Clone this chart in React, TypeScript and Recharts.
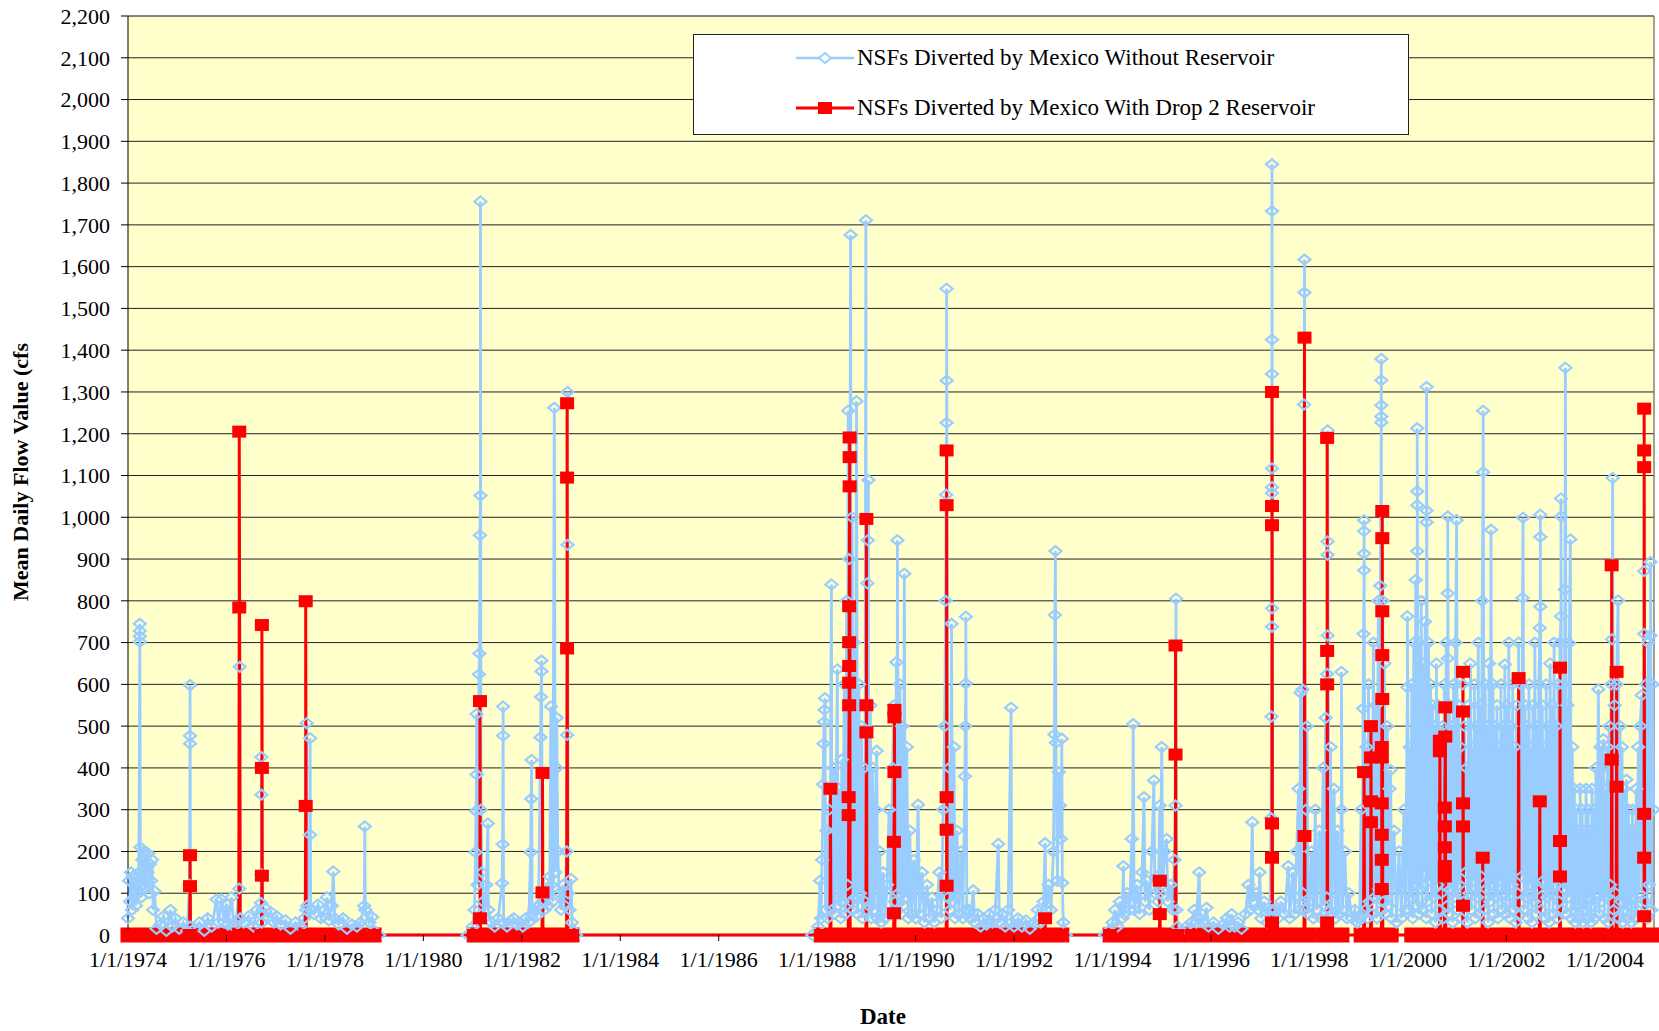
import React from 'react';
import { LineChart, Line, XAxis, YAxis, CartesianGrid, ReferenceLine } from 'recharts';

type Row = [number, number];

// decimal year, mean daily flow (cfs)
const blue1974: Row[] = [
  [1974.0, 40], [1974.02, 130], [1974.04, 80], [1974.06, 150], [1974.08, 60], [1974.1, 140], [1974.12, 90], [1974.14, 120],
  [1974.16, 70], [1974.18, 130], [1974.2, 100], [1974.22, 150], [1974.24, 702], [1974.24, 715], [1974.24, 728], [1974.24, 745],
  [1974.25, 210], [1974.27, 90], [1974.29, 180], [1974.31, 120], [1974.33, 200], [1974.35, 110], [1974.37, 190], [1974.39, 150],
  [1974.41, 195], [1974.43, 100], [1974.45, 170], [1974.47, 130], [1974.49, 180], [1974.51, 60], [1974.54, 105], [1974.58, 15],
  [1974.66, 25], [1974.72, 45], [1974.78, 10], [1974.86, 60], [1974.9, 20], [1974.96, 40], [1975.04, 15], [1975.12, 30],
  [1975.2, 10], [1975.25, 120], [1975.26, 458], [1975.26, 477], [1975.26, 598], [1975.27, 20], [1975.35, 15], [1975.45, 30],
  [1975.55, 10], [1975.62, 40], [1975.7, 20], [1975.8, 85], [1975.84, 30], [1975.9, 85], [1975.95, 30], [1976.0, 75],
  [1976.03, 25], [1976.1, 90], [1976.15, 20], [1976.2, 35], [1976.26, 111], [1976.27, 642], [1976.28, 40], [1976.35, 30],
  [1976.45, 45], [1976.55, 20], [1976.62, 60], [1976.68, 50], [1976.7, 77], [1976.71, 145], [1976.71, 336], [1976.71, 426],
  [1976.72, 30], [1976.78, 65], [1976.84, 40], [1976.9, 55], [1976.96, 30], [1977.02, 45], [1977.1, 25], [1977.2, 35],
  [1977.3, 15], [1977.4, 30], [1977.5, 20], [1977.58, 40], [1977.62, 60], [1977.63, 507], [1977.64, 70], [1977.7, 240],
  [1977.7, 471], [1977.71, 60], [1977.78, 50], [1977.86, 73], [1977.92, 40], [1978.0, 60], [1978.04, 90], [1978.08, 35],
  [1978.14, 70], [1978.17, 152], [1978.2, 40], [1978.28, 25], [1978.37, 40], [1978.45, 15], [1978.55, 25], [1978.65, 20],
  [1978.72, 30], [1978.8, 70], [1978.81, 260], [1978.82, 60], [1978.9, 30], [1978.96, 43], [1979.0, 10], [1979.1, 0],
  [1980.9, 0],
];

const blue1981: Row[] = [
  [1981.0, 20], [1981.04, 60], [1981.06, 198], [1981.07, 297], [1981.08, 384], [1981.08, 529], [1981.1, 120], [1981.13, 624],
  [1981.14, 674], [1981.15, 957], [1981.16, 1052], [1981.16, 1756], [1981.17, 300], [1981.19, 150], [1981.21, 80], [1981.24, 40],
  [1981.28, 120], [1981.31, 267], [1981.32, 60], [1981.38, 30], [1981.45, 20], [1981.52, 40], [1981.6, 124], [1981.61, 217],
  [1981.62, 477], [1981.62, 547], [1981.63, 30], [1981.7, 20], [1981.78, 35], [1981.84, 40], [1981.9, 25], [1981.96, 30],
  [1982.02, 20], [1982.08, 40], [1982.14, 30], [1982.18, 198], [1982.19, 326], [1982.2, 419], [1982.21, 50], [1982.25, 60],
  [1982.3, 45], [1982.34, 70], [1982.38, 473], [1982.39, 570], [1982.4, 631], [1982.4, 657], [1982.42, 80], [1982.46, 60],
  [1982.5, 100], [1982.54, 70], [1982.57, 140], [1982.59, 547], [1982.6, 120], [1982.63, 80], [1982.66, 1262], [1982.68, 150],
  [1982.71, 400], [1982.71, 520], [1982.73, 200], [1982.76, 100], [1982.8, 60], [1982.84, 120], [1982.88, 70], [1982.91, 200],
  [1982.92, 479], [1982.93, 934], [1982.93, 1300], [1982.94, 100], [1982.97, 60], [1983.0, 134], [1983.02, 30], [1983.06, 10],
  [1983.1, 0], [1987.9, 0],
];

const blue1988: Row[] = [
  [1988.02, 20], [1988.06, 130], [1988.08, 40], [1988.1, 180], [1988.12, 361], [1988.13, 458], [1988.14, 510], [1988.15, 539],
  [1988.16, 567], [1988.17, 60], [1988.19, 250], [1988.21, 40], [1988.24, 300], [1988.27, 350], [1988.29, 839], [1988.3, 60],
  [1988.33, 400], [1988.35, 50], [1988.38, 250], [1988.41, 636], [1988.42, 70], [1988.45, 350], [1988.48, 40], [1988.5, 420],
  [1988.52, 80], [1988.55, 600], [1988.57, 50], [1988.6, 800], [1988.62, 120], [1988.63, 1255], [1988.65, 900], [1988.66, 700],
  [1988.68, 1676], [1988.69, 80], [1988.71, 1000], [1988.73, 60], [1988.75, 700], [1988.77, 90], [1988.8, 1278], [1988.82, 50],
  [1988.85, 600], [1988.87, 100], [1988.9, 500], [1988.92, 40], [1988.95, 400], [1988.97, 80], [1988.99, 1711], [1989.0, 60],
  [1989.02, 842], [1989.03, 945], [1989.04, 1089], [1989.05, 70], [1989.08, 550], [1989.1, 40], [1989.13, 400], [1989.16, 60],
  [1989.19, 300], [1989.21, 441], [1989.23, 40], [1989.27, 200], [1989.3, 30], [1989.34, 150], [1989.38, 40], [1989.42, 120],
  [1989.46, 300], [1989.5, 50], [1989.53, 400], [1989.56, 550], [1989.58, 80], [1989.61, 653], [1989.62, 60], [1989.63, 945],
  [1989.65, 100], [1989.68, 600], [1989.7, 50], [1989.73, 500], [1989.75, 70], [1989.77, 865], [1989.79, 90], [1989.82, 450],
  [1989.85, 40], [1989.88, 250], [1989.92, 50], [1989.96, 180], [1990.0, 40], [1990.05, 312], [1990.08, 50], [1990.13, 150],
  [1990.18, 30], [1990.23, 120], [1990.28, 40], [1990.33, 90], [1990.38, 30], [1990.43, 60], [1990.48, 150], [1990.52, 40],
  [1990.56, 300], [1990.59, 500], [1990.61, 800], [1990.62, 1054], [1990.63, 1226], [1990.63, 1327], [1990.63, 1547], [1990.65, 90],
  [1990.68, 400], [1990.7, 60], [1990.73, 745], [1990.75, 80], [1990.78, 450], [1990.8, 40], [1990.84, 250], [1990.88, 50],
  [1990.92, 200], [1990.96, 40], [1991.0, 380], [1991.01, 500], [1991.02, 602], [1991.02, 762], [1991.04, 60], [1991.08, 60],
  [1991.12, 40], [1991.17, 107], [1991.2, 30], [1991.26, 50], [1991.32, 20], [1991.38, 40], [1991.44, 25], [1991.5, 50],
  [1991.56, 30], [1991.62, 60], [1991.68, 218], [1991.7, 30], [1991.76, 50], [1991.82, 20], [1991.88, 60], [1991.94, 544],
  [1991.95, 30], [1992.0, 20], [1992.08, 40], [1992.16, 20], [1992.24, 35], [1992.32, 15], [1992.4, 30], [1992.48, 60],
  [1992.54, 30], [1992.6, 80], [1992.63, 220], [1992.65, 60], [1992.7, 120], [1992.75, 60], [1992.8, 200], [1992.82, 480],
  [1992.83, 766], [1992.84, 919], [1992.85, 460], [1992.88, 130], [1992.91, 390], [1992.93, 310], [1992.95, 230], [1992.97, 470],
  [1992.98, 125], [1993.0, 30], [1993.05, 0], [1993.85, 0],
];

const blue1994: Row[] = [
  [1993.92, 10], [1994.0, 30], [1994.05, 60], [1994.1, 20], [1994.15, 80], [1994.2, 40], [1994.22, 165], [1994.24, 50],
  [1994.3, 100], [1994.35, 60], [1994.39, 230], [1994.4, 80], [1994.42, 505], [1994.44, 60], [1994.5, 120], [1994.55, 50],
  [1994.6, 150], [1994.64, 330], [1994.66, 80], [1994.7, 130], [1994.75, 60], [1994.8, 200], [1994.84, 370], [1994.86, 100],
  [1994.9, 140], [1994.93, 80], [1994.96, 310], [1994.97, 100], [1995.0, 450], [1995.02, 120], [1995.06, 200], [1995.1, 230],
  [1995.12, 80], [1995.18, 120], [1995.22, 60], [1995.26, 180], [1995.28, 310], [1995.29, 805], [1995.3, 60], [1995.32, 20],
  [1995.4, 10], [1995.5, 20], [1995.6, 30], [1995.66, 60], [1995.7, 30], [1995.76, 150], [1995.78, 40], [1995.84, 30],
  [1995.91, 65], [1995.95, 20], [1996.05, 30], [1996.15, 15], [1996.25, 25], [1996.32, 40], [1996.38, 20], [1996.42, 50],
  [1996.48, 20], [1996.55, 30], [1996.62, 15], [1996.7, 50], [1996.76, 120], [1996.8, 60], [1996.84, 270], [1996.86, 80],
  [1996.92, 100], [1996.96, 60], [1996.99, 150], [1997.02, 40], [1997.08, 80], [1997.14, 30], [1997.2, 60], [1997.22, 280],
  [1997.23, 523], [1997.24, 738], [1997.24, 782], [1997.24, 1058], [1997.24, 1072], [1997.24, 1117], [1997.24, 1343], [1997.24, 1425],
  [1997.24, 1733], [1997.24, 1845], [1997.25, 60], [1997.3, 60], [1997.36, 40], [1997.42, 80], [1997.5, 50], [1997.57, 165],
  [1997.6, 40], [1997.66, 150], [1997.7, 50], [1997.74, 200], [1997.78, 350], [1997.8, 60], [1997.82, 580], [1997.84, 80],
  [1997.86, 588], [1997.87, 100], [1997.89, 1270], [1997.9, 1538], [1997.9, 1617], [1997.91, 60], [1997.93, 300], [1997.95, 500],
  [1997.97, 50],
];

const blue1998: Row[] = [
  [1998.0, 80], [1998.04, 200], [1998.08, 40], [1998.12, 300], [1998.15, 60], [1998.2, 250], [1998.24, 40], [1998.28, 400],
  [1998.3, 70], [1998.33, 520], [1998.35, 90], [1998.36, 625], [1998.37, 717], [1998.37, 910], [1998.37, 942], [1998.37, 1208],
  [1998.4, 60], [1998.43, 450], [1998.45, 50], [1998.5, 350], [1998.53, 40], [1998.57, 250], [1998.6, 50], [1998.65, 300],
  [1998.65, 630], [1998.67, 60], [1998.72, 200], [1998.76, 40], [1998.8, 100], [1998.86, 40], [1998.92, 60], [1998.97, 30],
  [1999.02, 40], [1999.05, 300], [1999.07, 50], [1999.09, 542], [1999.1, 721], [1999.11, 873], [1999.11, 913], [1999.11, 967],
  [1999.11, 993], [1999.13, 60], [1999.16, 450], [1999.18, 40], [1999.2, 600], [1999.22, 80], [1999.25, 500], [1999.27, 50],
  [1999.3, 700], [1999.32, 90], [1999.35, 550], [1999.37, 40], [1999.4, 800], [1999.42, 110], [1999.44, 836], [1999.46, 1227],
  [1999.46, 1241], [1999.46, 1268], [1999.46, 1328], [1999.46, 1379], [1999.47, 60], [1999.49, 800], [1999.5, 80], [1999.52, 650],
  [1999.55, 50], [1999.58, 500], [1999.6, 70], [1999.63, 350], [1999.65, 395], [1999.67, 40], [1999.72, 250], [1999.77, 30],
  [1999.82, 200], [1999.87, 40], [1999.92, 300], [1999.95, 60], [1999.99, 593], [1999.99, 763],
];

const blue2000: Row[] = [
  [2000.02, 60], [2000.04, 450], [2000.06, 90], [2000.08, 600], [2000.1, 40], [2000.12, 700], [2000.14, 120], [2000.16, 850],
  [2000.18, 70], [2000.19, 919], [2000.19, 1029], [2000.19, 1062], [2000.19, 1213], [2000.21, 50], [2000.23, 700], [2000.25, 110],
  [2000.27, 800], [2000.29, 60], [2000.31, 650], [2000.33, 150], [2000.35, 750], [2000.37, 40], [2000.38, 988], [2000.38, 1016],
  [2000.38, 1312], [2000.4, 80], [2000.42, 700], [2000.44, 130], [2000.46, 600], [2000.48, 50], [2000.5, 550], [2000.52, 90],
  [2000.54, 500], [2000.56, 30], [2000.58, 650], [2000.6, 120], [2000.62, 550], [2000.64, 60], [2000.66, 450], [2000.68, 100],
  [2000.7, 500], [2000.72, 40], [2000.74, 600], [2000.76, 140], [2000.78, 700], [2000.8, 70], [2000.81, 662], [2000.81, 818],
  [2000.81, 1002], [2000.83, 50], [2000.85, 550], [2000.87, 110], [2000.89, 500], [2000.91, 30], [2000.93, 600], [2000.95, 90],
  [2000.97, 700], [2000.99, 993], [2001.01, 60], [2001.03, 550], [2001.05, 120], [2001.07, 450], [2001.09, 40], [2001.11, 600],
  [2001.13, 80], [2001.15, 500], [2001.17, 150], [2001.19, 400], [2001.21, 30], [2001.23, 550], [2001.25, 100], [2001.27, 650],
  [2001.29, 60], [2001.31, 450], [2001.33, 130], [2001.35, 600], [2001.37, 40], [2001.39, 500], [2001.41, 90], [2001.43, 700],
  [2001.45, 50], [2001.47, 550], [2001.49, 140], [2001.51, 800], [2001.53, 1108], [2001.53, 1255], [2001.55, 60], [2001.57, 600],
  [2001.59, 110], [2001.61, 500], [2001.63, 30], [2001.65, 650], [2001.67, 80], [2001.69, 970], [2001.71, 120], [2001.73, 600],
  [2001.75, 50], [2001.77, 500], [2001.79, 90], [2001.81, 550], [2001.83, 40], [2001.85, 450], [2001.87, 130], [2001.89, 600],
  [2001.91, 60], [2001.93, 500], [2001.95, 100], [2001.97, 648], [2001.99, 50],
];

const blue2002: Row[] = [
  [2002.01, 550], [2002.03, 80], [2002.05, 700], [2002.07, 40], [2002.09, 500], [2002.11, 120], [2002.13, 600], [2002.15, 60],
  [2002.17, 450], [2002.19, 30], [2002.21, 550], [2002.23, 100], [2002.25, 700], [2002.27, 50], [2002.29, 600], [2002.31, 140],
  [2002.33, 807], [2002.34, 999], [2002.36, 60], [2002.38, 550], [2002.4, 90], [2002.42, 500], [2002.44, 40], [2002.46, 600],
  [2002.48, 120], [2002.5, 450], [2002.52, 30], [2002.54, 550], [2002.56, 80], [2002.58, 700], [2002.6, 50], [2002.62, 500],
  [2002.64, 110], [2002.66, 600], [2002.68, 735], [2002.69, 786], [2002.69, 953], [2002.69, 1006], [2002.71, 60], [2002.73, 550],
  [2002.75, 130], [2002.77, 450], [2002.79, 40], [2002.81, 600], [2002.83, 90], [2002.85, 500], [2002.87, 30], [2002.89, 650],
  [2002.91, 100], [2002.93, 550], [2002.95, 50], [2002.97, 700], [2002.99, 120], [2003.01, 500], [2003.03, 40], [2003.05, 600],
  [2003.07, 80], [2003.09, 700], [2003.11, 763], [2003.11, 1002], [2003.11, 1045], [2003.13, 60], [2003.15, 600], [2003.17, 110],
  [2003.19, 827], [2003.2, 1358], [2003.22, 50], [2003.24, 550], [2003.26, 90], [2003.28, 699], [2003.3, 947], [2003.32, 40],
  [2003.34, 450], [2003.36, 60], [2003.38, 350], [2003.4, 30], [2003.42, 300], [2003.44, 70], [2003.46, 250], [2003.48, 40],
  [2003.5, 350], [2003.52, 80], [2003.54, 300], [2003.56, 30], [2003.58, 250], [2003.6, 60], [2003.62, 350], [2003.64, 40],
  [2003.66, 300], [2003.68, 90], [2003.7, 250], [2003.72, 30], [2003.74, 350], [2003.76, 70], [2003.78, 300], [2003.8, 40],
  [2003.82, 400], [2003.84, 100], [2003.87, 588], [2003.89, 50], [2003.91, 450], [2003.93, 80], [2003.95, 400], [2003.97, 469],
  [2003.99, 40], [2004.01, 350], [2004.03, 90], [2004.05, 450], [2004.07, 30], [2004.09, 500], [2004.11, 120], [2004.13, 600],
  [2004.15, 708], [2004.16, 1094], [2004.18, 60], [2004.2, 550], [2004.22, 100], [2004.24, 600], [2004.27, 801], [2004.29, 40],
  [2004.31, 500], [2004.33, 80], [2004.35, 450], [2004.37, 30], [2004.39, 350], [2004.41, 60], [2004.44, 372], [2004.46, 40],
  [2004.48, 300], [2004.5, 70], [2004.52, 250], [2004.54, 30], [2004.56, 300], [2004.58, 90], [2004.6, 250], [2004.62, 40],
  [2004.64, 350], [2004.66, 60], [2004.68, 450], [2004.7, 100], [2004.72, 500], [2004.75, 574], [2004.77, 50], [2004.8, 721],
  [2004.8, 871], [2004.82, 80], [2004.84, 600], [2004.86, 40], [2004.88, 700], [2004.9, 120], [2004.93, 717], [2004.93, 893],
  [2004.95, 60], [2004.97, 600], [2004.99, 300],
];

const red1974: Row[] = [
  [1974.0, 0], [1975.25, 0], [1975.26, 117], [1975.26, 191], [1975.27, 0], [1976.25, 0], [1976.26, 784], [1976.26, 1205],
  [1976.28, 0], [1976.71, 0], [1976.72, 142], [1976.72, 400], [1976.72, 742], [1976.73, 0], [1977.6, 0], [1977.61, 309],
  [1977.61, 799], [1977.62, 0], [1979.0, 0],
];

const red1981: Row[] = [
  [1981.03, 0], [1981.14, 0], [1981.15, 40], [1981.15, 560], [1981.16, 0], [1982.41, 0], [1982.42, 102], [1982.42, 388],
  [1982.43, 0], [1982.91, 0], [1982.92, 686], [1982.92, 1095], [1982.92, 1273], [1982.93, 0], [1983.02, 0],
];

const red1988: Row[] = [
  [1988.08, 0], [1988.26, 0], [1988.27, 350], [1988.28, 0], [1988.63, 0], [1988.64, 287], [1988.64, 330], [1988.65, 550],
  [1988.65, 604], [1988.65, 644], [1988.65, 701], [1988.65, 787], [1988.66, 1074], [1988.66, 1144], [1988.66, 1191], [1988.67, 0],
  [1988.99, 0], [1989.0, 485], [1989.0, 550], [1989.0, 996], [1989.01, 0], [1989.55, 0], [1989.56, 52], [1989.56, 223],
  [1989.57, 390], [1989.57, 521], [1989.57, 539], [1989.58, 0], [1990.62, 0], [1990.63, 118], [1990.63, 252], [1990.63, 330],
  [1990.63, 1029], [1990.63, 1160], [1990.64, 0], [1992.62, 0], [1992.63, 40], [1992.64, 0], [1992.97, 0],
];

const red1994: Row[] = [
  [1993.95, 0], [1994.95, 0], [1994.96, 50], [1994.96, 130], [1994.97, 0], [1995.27, 0], [1995.28, 432], [1995.28, 693],
  [1995.29, 0], [1995.32, 0], [1995.61, 0], [1997.23, 0], [1997.24, 30], [1997.24, 185], [1997.24, 267], [1997.24, 981],
  [1997.24, 1027], [1997.24, 1300], [1997.25, 0], [1997.89, 0], [1997.9, 237], [1997.9, 1430], [1997.91, 0], [1997.99, 0],
];

const red1998: Row[] = [
  [1998.29, 0], [1998.35, 0], [1998.36, 30], [1998.36, 600], [1998.36, 680], [1998.36, 1190], [1998.37, 0], [1998.66, 0],
  [1999.05, 0], [1999.1, 0], [1999.11, 390], [1999.12, 0], [1999.24, 0], [1999.25, 270], [1999.25, 320], [1999.25, 425],
  [1999.25, 500], [1999.26, 0], [1999.46, 0], [1999.47, 110], [1999.47, 180], [1999.47, 240], [1999.47, 315], [1999.47, 425],
  [1999.47, 450], [1999.48, 565], [1999.48, 670], [1999.48, 775], [1999.48, 950], [1999.48, 1015], [1999.49, 0], [1999.66, 0],
];

const red2000: Row[] = [
  [2000.08, 0], [2000.64, 0], [2000.65, 440], [2000.65, 465], [2000.66, 0], [2000.74, 0], [2000.75, 140], [2000.75, 165],
  [2000.75, 210], [2000.75, 260], [2000.75, 305], [2000.76, 475], [2000.76, 545], [2000.77, 0], [2001.11, 0], [2001.12, 70],
  [2001.12, 260], [2001.12, 315], [2001.12, 535], [2001.12, 630], [2001.13, 0], [2001.51, 0], [2001.52, 185], [2001.53, 0],
  [2002.24, 0], [2002.25, 615], [2002.26, 0], [2002.67, 0], [2002.68, 320], [2002.69, 0], [2003.08, 0], [2003.09, 140],
  [2003.09, 225], [2003.09, 640], [2003.1, 0], [2004.13, 0], [2004.14, 420], [2004.14, 885], [2004.15, 0], [2004.23, 0],
  [2004.24, 355], [2004.24, 630], [2004.25, 0], [2004.79, 0], [2004.8, 45], [2004.8, 185], [2004.8, 290], [2004.8, 1120],
  [2004.8, 1160], [2004.8, 1260], [2004.81, 0], [2004.98, 0],
];

// stretches of days where the reservoir case diverts nothing (markers pile up on 0)
const zeroRuns: Row[] = [
  [1974.0, 1979.0], [1981.03, 1983.02], [1988.08, 1992.97], [1993.95, 1995.32],
  [1995.61, 1997.99], [1998.29, 1998.66], [1999.05, 1999.66], [2000.08, 2004.98],
];

const xTicks = [1974, 1976, 1978, 1980, 1982, 1984, 1986, 1988, 1990, 1992, 1994, 1996, 1998, 2000, 2002, 2004];
const yTicks = [0, 100, 200, 300, 400, 500, 600, 700, 800, 900, 1000, 1100, 1200, 1300, 1400, 1500, 1600, 1700, 1800, 1900, 2000, 2100, 2200];
const seriesNames = ['NSFs Diverted by Mexico Without Reservoir', 'NSFs Diverted by Mexico With Drop 2 Reservoir'];

const BLUE = '#99CCFF';
const RED = '#FF0000';
const FONT = '"Liberation Serif", "Times New Roman", serif';

const toPts = (rows: Row[]) => rows.map(([x, y]) => ({ x, y }));
const blueData = toPts([...blue1974, ...blue1981, ...blue1988, ...blue1994, ...blue1998, ...blue2000, ...blue2002]);
const redData = toPts([...red1974, ...red1981, ...red1988, ...red1994, ...red1998, ...red2000]);

const Diamond = (props: any) => {
  const { cx, cy, index } = props;
  if (cx == null || cy == null) return <g key={index} />;
  return (
    <path key={index} d={`M${cx},${cy - 5}L${cx + 6},${cy}L${cx},${cy + 5}L${cx - 6},${cy}Z`}
      fill="none" stroke={BLUE} strokeWidth={2.2} />
  );
};

const Square = (props: any) => {
  const { cx, cy, index } = props;
  if (cx == null || cy == null) return <g key={index} />;
  return <rect key={index} x={cx - 7} y={cy - 6} width={14} height={12} fill={RED} />;
};

const App: React.FC = () => {
  return (
    <div style={{ position: 'absolute', left: 0, top: 0, width: 1659, height: 1031, overflow: 'hidden', background: '#fff' }}>
      <LineChart width={1659} height={1031} margin={{ top: 16, right: 5, bottom: 0, left: 0 }}>
        <CartesianGrid vertical={false} stroke="#222" fill="#FFFFCC" fillOpacity={1} />
        <XAxis type="number" dataKey="x" domain={[1974, 2005]} ticks={xTicks} height={96} axisLine={false}
          tickFormatter={(v: number) => `1/1/${v}`} stroke="#000" tickSize={6} tickMargin={10}
          tick={{ fill: '#000', fontSize: 22, fontFamily: FONT }}
          label={{ content: () => <text x={883} y={1024} textAnchor="middle" fontFamily={FONT} fontWeight="bold" fontSize={23} fill="#000">Date</text> }} />
        <YAxis type="number" dataKey="y" domain={[0, 2200]} ticks={yTicks} width={128} interval={0}
          tickFormatter={(v: number) => v.toLocaleString('en-US')} stroke="#000" tickSize={7} tickMargin={11}
          tick={{ fill: '#000', fontSize: 22, fontFamily: FONT }}
          label={{ content: () => (
            <text x={28} y={472} transform="rotate(-90 28 472)" textAnchor="middle" fontFamily={FONT}
              fontWeight="bold" fontSize={22} fill="#000">Mean Daily Flow Value (cfs</text>
          ) }} />
        <ReferenceLine y={2200} stroke="#808080" strokeWidth={1.5} />
        <ReferenceLine x={2005} stroke="#808080" strokeWidth={1.5} />
        <Line data={blueData} dataKey="y" type="linear" stroke={BLUE} strokeWidth={2.8} dot={Diamond}
          isAnimationActive={false} legendType="none" />
        {zeroRuns.map(([a, b], i) => (
          <Line key={`run${i}`} data={toPts([[a, 0], [b, 0]])} dataKey="y" type="linear" stroke={RED}
            strokeWidth={15} strokeLinecap="square" dot={false} isAnimationActive={false} legendType="none" />
        ))}
        <Line data={redData} dataKey="y" type="linear" stroke={RED} strokeWidth={3} dot={Square}
          isAnimationActive={false} legendType="none" />
      </LineChart>

      <div style={{ position: 'absolute', left: 693, top: 34, width: 716, height: 101, boxSizing: 'border-box',
        border: '1px solid #222', background: '#fff', fontFamily: FONT, fontSize: 23, color: '#000' }}>
        {seriesNames.map((name, i) => (
          <div key={name} style={{ position: 'absolute', left: 102, top: i === 0 ? 9 : 59, height: 28,
            display: 'flex', alignItems: 'center', whiteSpace: 'nowrap' }}>
            <svg width={60} height={28} style={{ marginRight: 1 }}>
              <line x1={0} y1={14} x2={58} y2={14} stroke={i === 0 ? BLUE : RED} strokeWidth={i === 0 ? 2.6 : 3} />
              {i === 0
                ? <path d="M29,9L35,14L29,19L23,14Z" fill="#fff" stroke={BLUE} strokeWidth={2} />
                : <rect x={22} y={8} width={14} height={12} fill={RED} />}
            </svg>
            <span>{name}</span>
          </div>
        ))}
      </div>
    </div>
  );
};

export default App;
